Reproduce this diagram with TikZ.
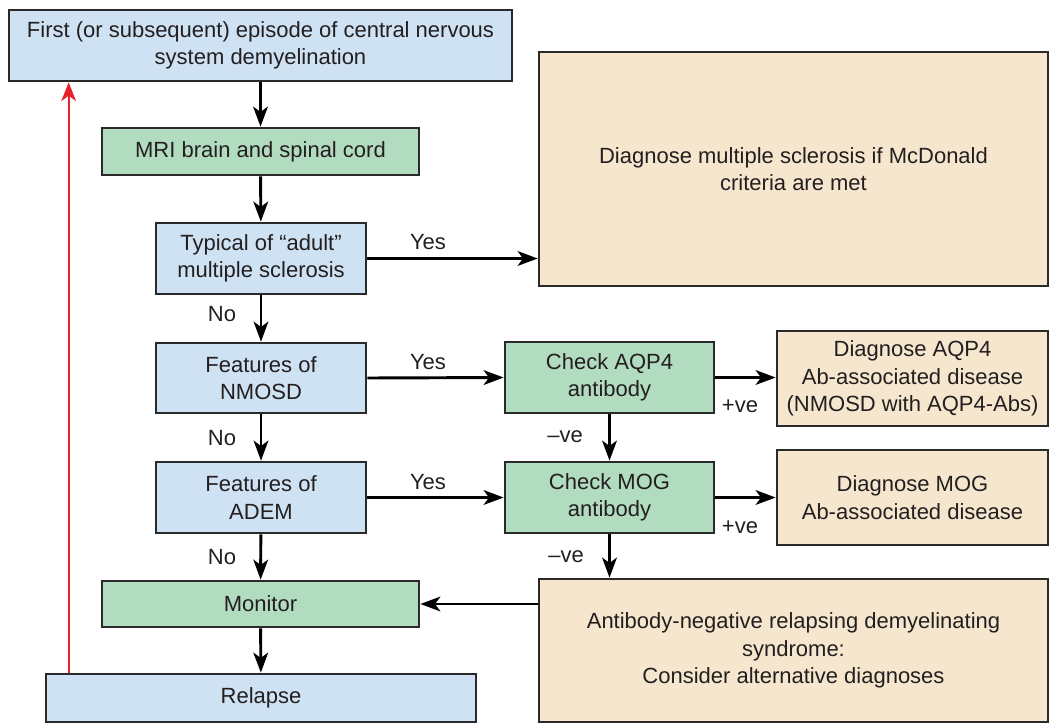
\documentclass[tikz,border=0pt]{standalone}
\usepackage{fontspec}
\setmainfont{Liberation Sans}
\usetikzlibrary{arrows.meta,calc}
\definecolor{bluef}{HTML}{CFE2F3}
\definecolor{greenf}{HTML}{B2DCC0}
\definecolor{beigef}{HTML}{F6E6CE}
\definecolor{edge}{HTML}{2A2A2A}
\definecolor{txt}{HTML}{231F20}
\definecolor{redl}{HTML}{E8202A}
\tikzset{
  every node/.style={font=\fontsize{16.5pt}{20.5pt}\selectfont, text=txt},
  box/.style={draw=edge, line width=2pt, align=center, inner sep=0pt},
  bluebox/.style={box, fill=bluef},
  greenbox/.style={box, fill=greenf},
  beigebox/.style={box, fill=beigef},
  arr/.style={line width=2.2pt, draw=black, -{Stealth[length=15pt,width=11pt,inset=4pt]}},
  redarr/.style={line width=1.6pt, draw=redl, -{Stealth[length=14pt,width=11pt,inset=4pt]}},
  lbl/.style={inner sep=0pt}
}
\begin{document}
\begin{tikzpicture}[x=0.75pt,y=-0.75pt]
\useasboundingbox (0,0) rectangle (1055,725);
% left column
\node[bluebox, minimum width={503*0.75pt}, minimum height={71*0.75pt}] (top) at (260.5,45.5)
  {First (or subsequent) episode of central nervous\\system demyelination};
\node[greenbox, minimum width={317*0.75pt}, minimum height={47*0.75pt}] (mri) at (260.5,151.5)
  {MRI brain and spinal cord};
\node[bluebox, minimum width={210*0.75pt}, minimum height={71*0.75pt}] (typ) at (261,258.5)
  {Typical of “adult”\\multiple sclerosis};
\node[bluebox, minimum width={210*0.75pt}, minimum height={70*0.75pt}] (nmo) at (261,378)
  {Features of\\NMOSD};
\node[bluebox, minimum width={210*0.75pt}, minimum height={71*0.75pt}] (adem) at (261,497.5)
  {Features of\\ADEM};
\node[greenbox, minimum width={317*0.75pt}, minimum height={46*0.75pt}] (mon) at (260.5,604)
  {Monitor};
\node[bluebox, minimum width={430*0.75pt}, minimum height={48*0.75pt}] (rel) at (261,698)
  {Relapse};
% middle column
\node[greenbox, minimum width={209*0.75pt}, minimum height={71*0.75pt}] (aqp) at (609.5,377.5)
  {Check AQP4\\antibody};
\node[greenbox, minimum width={209*0.75pt}, minimum height={71*0.75pt}] (mog) at (609.5,497.5)
  {Check MOG\\antibody};
% right column
\node[beigebox, minimum width={509*0.75pt}, minimum height={234*0.75pt}] (ms) at (793.5,169)
  {Diagnose multiple sclerosis if McDonald\\criteria are met};
\node[beigebox, minimum width={271*0.75pt}, minimum height={95*0.75pt}] (daqp) at (912.5,378.5)
  {Diagnose AQP4\\Ab-associated disease\\(NMOSD with AQP4-Abs)};
\node[beigebox, minimum width={271*0.75pt}, minimum height={95*0.75pt}] (dmog) at (912.5,497.5)
  {Diagnose MOG\\Ab-associated disease};
\node[beigebox, minimum width={509*0.75pt}, minimum height={143*0.75pt}] (neg) at (793.5,650.5)
  {Antibody-negative relapsing demyelinating\\syndrome:\\Consider alternative diagnoses};
% labels
\node[lbl] (y1) at (428,242) {Yes};
\node[lbl] (y2) at (428,362) {Yes};
\node[lbl] (y3) at (428,482) {Yes};
\node[lbl] (n1) at (222,314) {No};
\node[lbl] (n2) at (222,438) {No};
\node[lbl] (n3) at (222,557) {No};
\node[lbl] (p1) at (740,406) {+ve};
\node[lbl] (p2) at (740,527) {+ve};
\node[lbl] (m1) at (565,437) {–ve};
\node[lbl] (m2) at (566,557) {–ve};
% connectors
\draw[arr] (top) -- (mri);
\draw[arr] (mri) -- (typ);
\draw[arr] (typ) -- (nmo);
\draw[arr] (nmo) -- (adem);
\draw[arr] (adem) -- (mon);
\draw[arr] (mon) -- (rel);
\draw[arr] (typ.east) -- (typ.east -| ms.west);
\draw[arr] (nmo.east) -- (aqp.west);
\draw[arr] (adem.east) -- (mog.west);
\draw[arr] (aqp.east) -- (aqp.east -| daqp.west);
\draw[arr] (mog.east) -- (mog.east -| dmog.west);
\draw[arr] (aqp) -- (mog);
\draw[arr] (mog.south) -- (mog.south |- neg.north);
\draw[arr] (mon.east -| neg.west) -- (mon.east);
\draw[redarr] ([xshift=18pt]rel.north west) coordinate (rs) -- (rs |- top.south);
\end{tikzpicture}
\end{document}
